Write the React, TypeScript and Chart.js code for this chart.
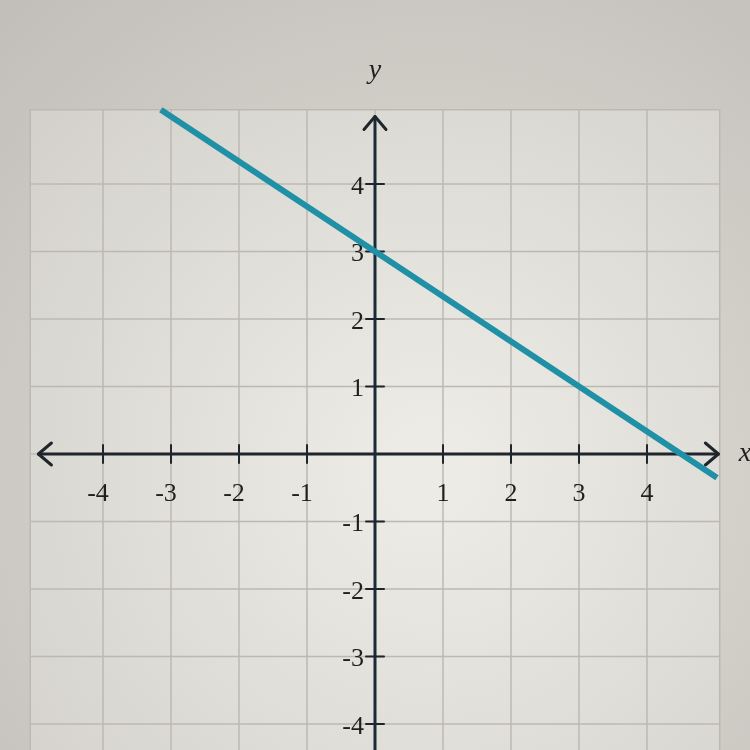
import { useEffect, useRef } from 'react';
import { Chart, registerables, Plugin } from 'chart.js';

Chart.register(...registerables);

// line (starts at the top edge of the grid, runs past the x arrow)
const lineX = [-3.15, 5.03];
const lineY = [5.1, -0.35];

const xTicks = [-4, -3, -2, -1, 1, 2, 3, 4];
const yTicks = [-4, -3, -2, -1, 1, 2, 3, 4];
const gridX = [-5, -4, -3, -2, -1, 0, 1, 2, 3, 4, 5];
const gridY = [-4, -3, -2, -1, 0, 1, 2, 3, 4];
const gridTop = 5.1;

const paperPlugin: Plugin<'scatter'> = {
  id: 'paper',
  beforeDraw(chart) {
    const { ctx, width, height } = chart;
    const xs = chart.scales.x;
    const ys = chart.scales.y;
    ctx.save();
    const bg = ctx.createRadialGradient(430, 470, 40, 430, 470, 620);
    bg.addColorStop(0, '#e2e0d9');
    bg.addColorStop(1, '#c2beb9');
    ctx.fillStyle = bg;
    ctx.fillRect(0, 0, width, height);

    const left = xs.getPixelForValue(-5.07);
    const right = xs.getPixelForValue(5.07);
    const top = ys.getPixelForValue(gridTop);
    const fg = ctx.createRadialGradient(430, 470, 40, 430, 470, 600);
    fg.addColorStop(0, '#ecebe5');
    fg.addColorStop(1, '#d0cdc7');
    ctx.fillStyle = fg;
    ctx.fillRect(left, top, right - left, height - top);

    ctx.strokeStyle = '#bdb9b2';
    ctx.lineWidth = 1.5;
    [-5.07, ...gridX.slice(1, -1), 5.07].forEach(v => {
      const p = xs.getPixelForValue(v);
      ctx.beginPath();
      ctx.moveTo(p, top);
      ctx.lineTo(p, height);
      ctx.stroke();
    });
    [...gridY, gridTop].forEach(v => {
      const p = ys.getPixelForValue(v);
      ctx.beginPath();
      ctx.moveTo(left, p);
      ctx.lineTo(right, p);
      ctx.stroke();
    });

    // axes
    const x0 = xs.getPixelForValue(0);
    const y0 = ys.getPixelForValue(0);
    const axL = xs.getPixelForValue(-4.95);
    const axR = xs.getPixelForValue(5.05);
    const axT = ys.getPixelForValue(5.0);
    ctx.lineWidth = 3;
    ctx.lineCap = 'round';
    ctx.lineJoin = 'round';
    ctx.strokeStyle = '#1e252b';
    ctx.beginPath();
    ctx.moveTo(axL, y0);
    ctx.lineTo(axR, y0);
    ctx.stroke();
    ctx.strokeStyle = '#1b2a38';
    ctx.beginPath();
    ctx.moveTo(x0, axT);
    ctx.lineTo(x0, height);
    ctx.stroke();

    // arrow heads
    ctx.strokeStyle = '#1e252b';
    ctx.beginPath();
    ctx.moveTo(axL + 13, y0 - 11);
    ctx.lineTo(axL, y0);
    ctx.lineTo(axL + 13, y0 + 11);
    ctx.moveTo(axR - 13, y0 - 11);
    ctx.lineTo(axR, y0);
    ctx.lineTo(axR - 13, y0 + 11);
    ctx.moveTo(x0 - 11, axT + 13);
    ctx.lineTo(x0, axT);
    ctx.lineTo(x0 + 11, axT + 13);
    ctx.stroke();

    // ticks and labels
    ctx.lineWidth = 2;
    ctx.fillStyle = '#1f1f1f';
    ctx.strokeStyle = '#1e252b';
    ctx.font = '26px "Liberation Serif", serif';
    ctx.textAlign = 'center';
    ctx.textBaseline = 'middle';
    xTicks.forEach(v => {
      const p = xs.getPixelForValue(v);
      ctx.beginPath();
      ctx.moveTo(p, y0 - 9);
      ctx.lineTo(p, y0 + 9);
      ctx.stroke();
      ctx.fillText(String(v), v < 0 ? p - 5 : p, y0 + 40);
    });
    ctx.textAlign = 'right';
    yTicks.forEach(v => {
      const p = ys.getPixelForValue(v);
      ctx.beginPath();
      ctx.moveTo(x0 - 9, p);
      ctx.lineTo(x0 + 9, p);
      ctx.stroke();
      ctx.fillText(String(v), x0 - 11, p + 3);
    });

    ctx.font = 'italic 28px "Liberation Serif", serif';
    ctx.textAlign = 'center';
    ctx.fillText('y', x0, ys.getPixelForValue(5.68));
    ctx.textAlign = 'left';
    ctx.fillText('x', xs.getPixelForValue(5.35), y0);
    ctx.restore();
  },
};

export default function App() {
  const canvasRef = useRef<HTMLCanvasElement>(null);

  useEffect(() => {
    if (!canvasRef.current) return;
    const chart = new Chart(canvasRef.current, {
      type: 'scatter',
      data: {
        datasets: [
          {
            data: lineX.map((x, i) => ({ x, y: lineY[i] })),
            showLine: true,
            borderColor: '#1f90a6',
            borderWidth: 6,
            pointRadius: 0,
            borderCapStyle: 'butt',
          },
        ],
      },
      options: {
        animation: false,
        responsive: false,
        layout: { padding: 0 },
        plugins: { legend: { display: false }, tooltip: { enabled: false } },
        scales: {
          x: { type: 'linear', display: false, min: -5.515, max: 5.515 },
          y: { type: 'linear', display: false, min: -4.385, max: 6.726 },
        },
      },
      plugins: [paperPlugin],
    });
    return () => chart.destroy();
  }, []);

  return (
    <div style={{ position: 'fixed', left: 0, top: 0, width: 750, height: 750 }}>
      <canvas ref={canvasRef} width={750} height={750}></canvas>
    </div>
  );
}
